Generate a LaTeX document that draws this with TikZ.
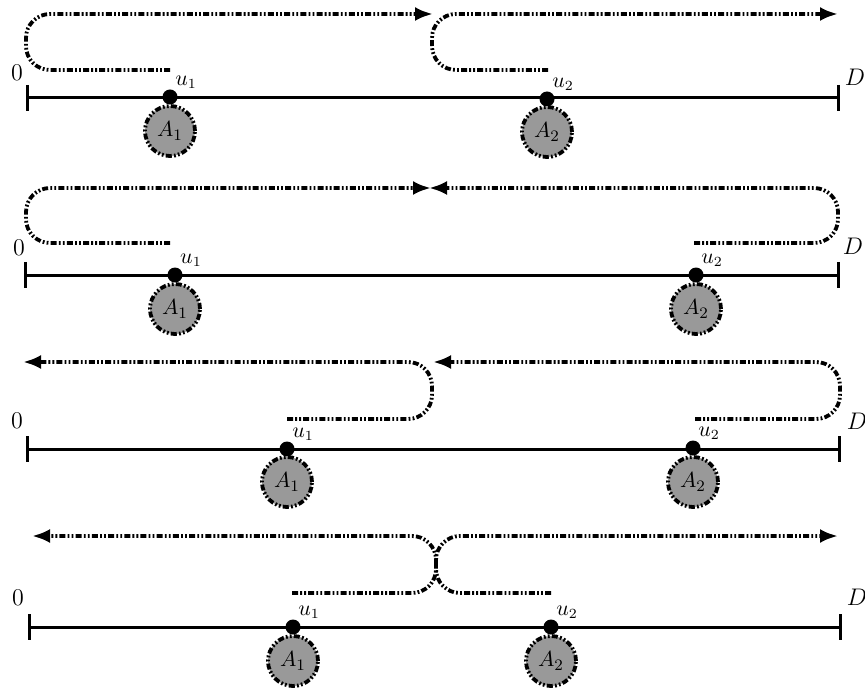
\documentclass[tikz,border=0pt]{standalone}
\usetikzlibrary{arrows.meta,calc}
\begin{document}
\begin{tikzpicture}[x=0.5pt,y=-0.5pt,
  axis/.style={line width=1.5pt},
  flow/.style={line width=1.9pt, dash pattern=on 3pt off 1.1pt on 0.9pt off 1.1pt on 0.9pt off 1.1pt, rounded corners=12pt, -{Latex[length=9pt,width=7pt]}},
  dotnode/.style={circle, fill=black, inner sep=0pt, minimum size=7.5pt},
  agent/.style={circle, fill=black!40, draw=black, line width=1.9pt, dash pattern=on 3pt off 1.1pt on 0.9pt off 1.1pt on 0.9pt off 1.1pt, minimum size=25pt, inner sep=0pt, font=\fontsize{11}{13}\selectfont},
  ulab/.style={font=\fontsize{10.5}{12}\selectfont, inner sep=0pt},
  endlab/.style={font=\fontsize{13}{15}\selectfont, inner sep=0pt}]
\useasboundingbox (0,0) rectangle (865,689);

% Panel 1
\coordinate (aL) at (27,98); \coordinate (aR) at (838,98);
\draw[axis] (aL) -- (aR);
\draw[axis] ($(aL)+(0,-13)$) -- ($(aL)+(0,13)$);
\draw[axis] ($(aR)+(0,-13)$) -- ($(aR)+(0,13)$);
\node[endlab] (a0) at (17,73) {$0$};
\node[endlab] (aD) at (855,77) {$D$};
\node[agent] (aA1) at (170,131) {$A_1$};
\node[agent] (aA2) at (547,132) {$A_2$};
\node[dotnode] (au1) at (170,97) {};
\node[dotnode] (au2) at (547,99) {};
\node[ulab] (au1l) at ($(au1)+(16,-15)$) {$u_1$};
\node[ulab] (au2l) at ($(au2)+(16,-15)$) {$u_2$};
\coordinate (as1) at (170,70); \coordinate (ae1) at (433,14);
\coordinate (as2) at (548,70); \coordinate (ae2) at (838,14);
\draw[flow] (as1) -- (26,70) -- (26,14) -- (ae1);
\draw[flow] (as2) -- (432,70) -- (432,14) -- (ae2);

% Panel 2
\coordinate (bL) at (25,275); \coordinate (bR) at (838,275);
\draw[axis] (bL) -- (bR);
\draw[axis] ($(bL)+(0,-13)$) -- ($(bL)+(0,13)$);
\draw[axis] ($(bR)+(0,-13)$) -- ($(bR)+(0,13)$);
\node[endlab] (b0) at (19,248) {$0$};
\node[endlab] (bD) at (853,246) {$D$};
\node[agent] (bA1) at (175,309) {$A_1$};
\node[agent] (bA2) at (696,309) {$A_2$};
\node[dotnode] (bu1) at (175,275) {};
\node[dotnode] (bu2) at (696,275) {};
\node[ulab] (bu1l) at ($(bu1)+(16,-15)$) {$u_1$};
\node[ulab] (bu2l) at ($(bu2)+(16,-15)$) {$u_2$};
\coordinate (bs1) at (170,243); \coordinate (be1) at (431,188);
\coordinate (bs2) at (694,243); \coordinate (be2) at (429,188);
\draw[flow] (bs1) -- (26,243) -- (26,188) -- (be1);
\draw[flow] (bs2) -- (838,243) -- (838,188) -- (be2);

% Panel 3
\coordinate (cL) at (27,449); \coordinate (cR) at (839,449);
\draw[axis] (cL) -- (cR);
\draw[axis] ($(cL)+(0,-13)$) -- ($(cL)+(0,13)$);
\draw[axis] ($(cR)+(0,-13)$) -- ($(cR)+(0,13)$);
\node[endlab] (c0) at (17,421) {$0$};
\node[endlab] (cD) at (857,421) {$D$};
\node[agent] (cA1) at (287,482) {$A_1$};
\node[agent] (cA2) at (693,482) {$A_2$};
\node[dotnode] (cu1) at (287,449) {};
\node[dotnode] (cu2) at (693,448) {};
\node[ulab] (cu1l) at ($(cu1)+(16,-15)$) {$u_1$};
\node[ulab] (cu2l) at ($(cu2)+(16,-15)$) {$u_2$};
\coordinate (cs1) at (287,419); \coordinate (ce1) at (23,362);
\coordinate (cs2) at (695,419); \coordinate (ce2) at (433,362);
\draw[flow] (cs1) -- (432,419) -- (432,362) -- (ce1);
\draw[flow] (cs2) -- (840,419) -- (840,362) -- (ce2);

% Panel 4
\coordinate (dL) at (29,627); \coordinate (dR) at (840,627);
\draw[axis] (dL) -- (dR);
\draw[axis] ($(dL)+(0,-13)$) -- ($(dL)+(0,13)$);
\draw[axis] ($(dR)+(0,-13)$) -- ($(dR)+(0,13)$);
\node[endlab] (d0) at (18,598) {$0$};
\node[endlab] (dD) at (857,597) {$D$};
\node[agent] (dA1) at (293,661) {$A_1$};
\node[agent] (dA2) at (551,661) {$A_2$};
\node[dotnode] (du1) at (293,627) {};
\node[dotnode] (du2) at (551,627) {};
\node[ulab] (du1l) at ($(du1)+(16,-15)$) {$u_1$};
\node[ulab] (du2l) at ($(du2)+(16,-15)$) {$u_2$};
\coordinate (ds1) at (292,593); \coordinate (de1) at (32,536);
\coordinate (ds2) at (551,593); \coordinate (de2) at (838,536);
\draw[flow] (ds1) -- (436,593) -- (436,536) -- (de1);
\draw[flow] (ds2) -- (436,593) -- (436,536) -- (de2);
\end{tikzpicture}
\end{document}
